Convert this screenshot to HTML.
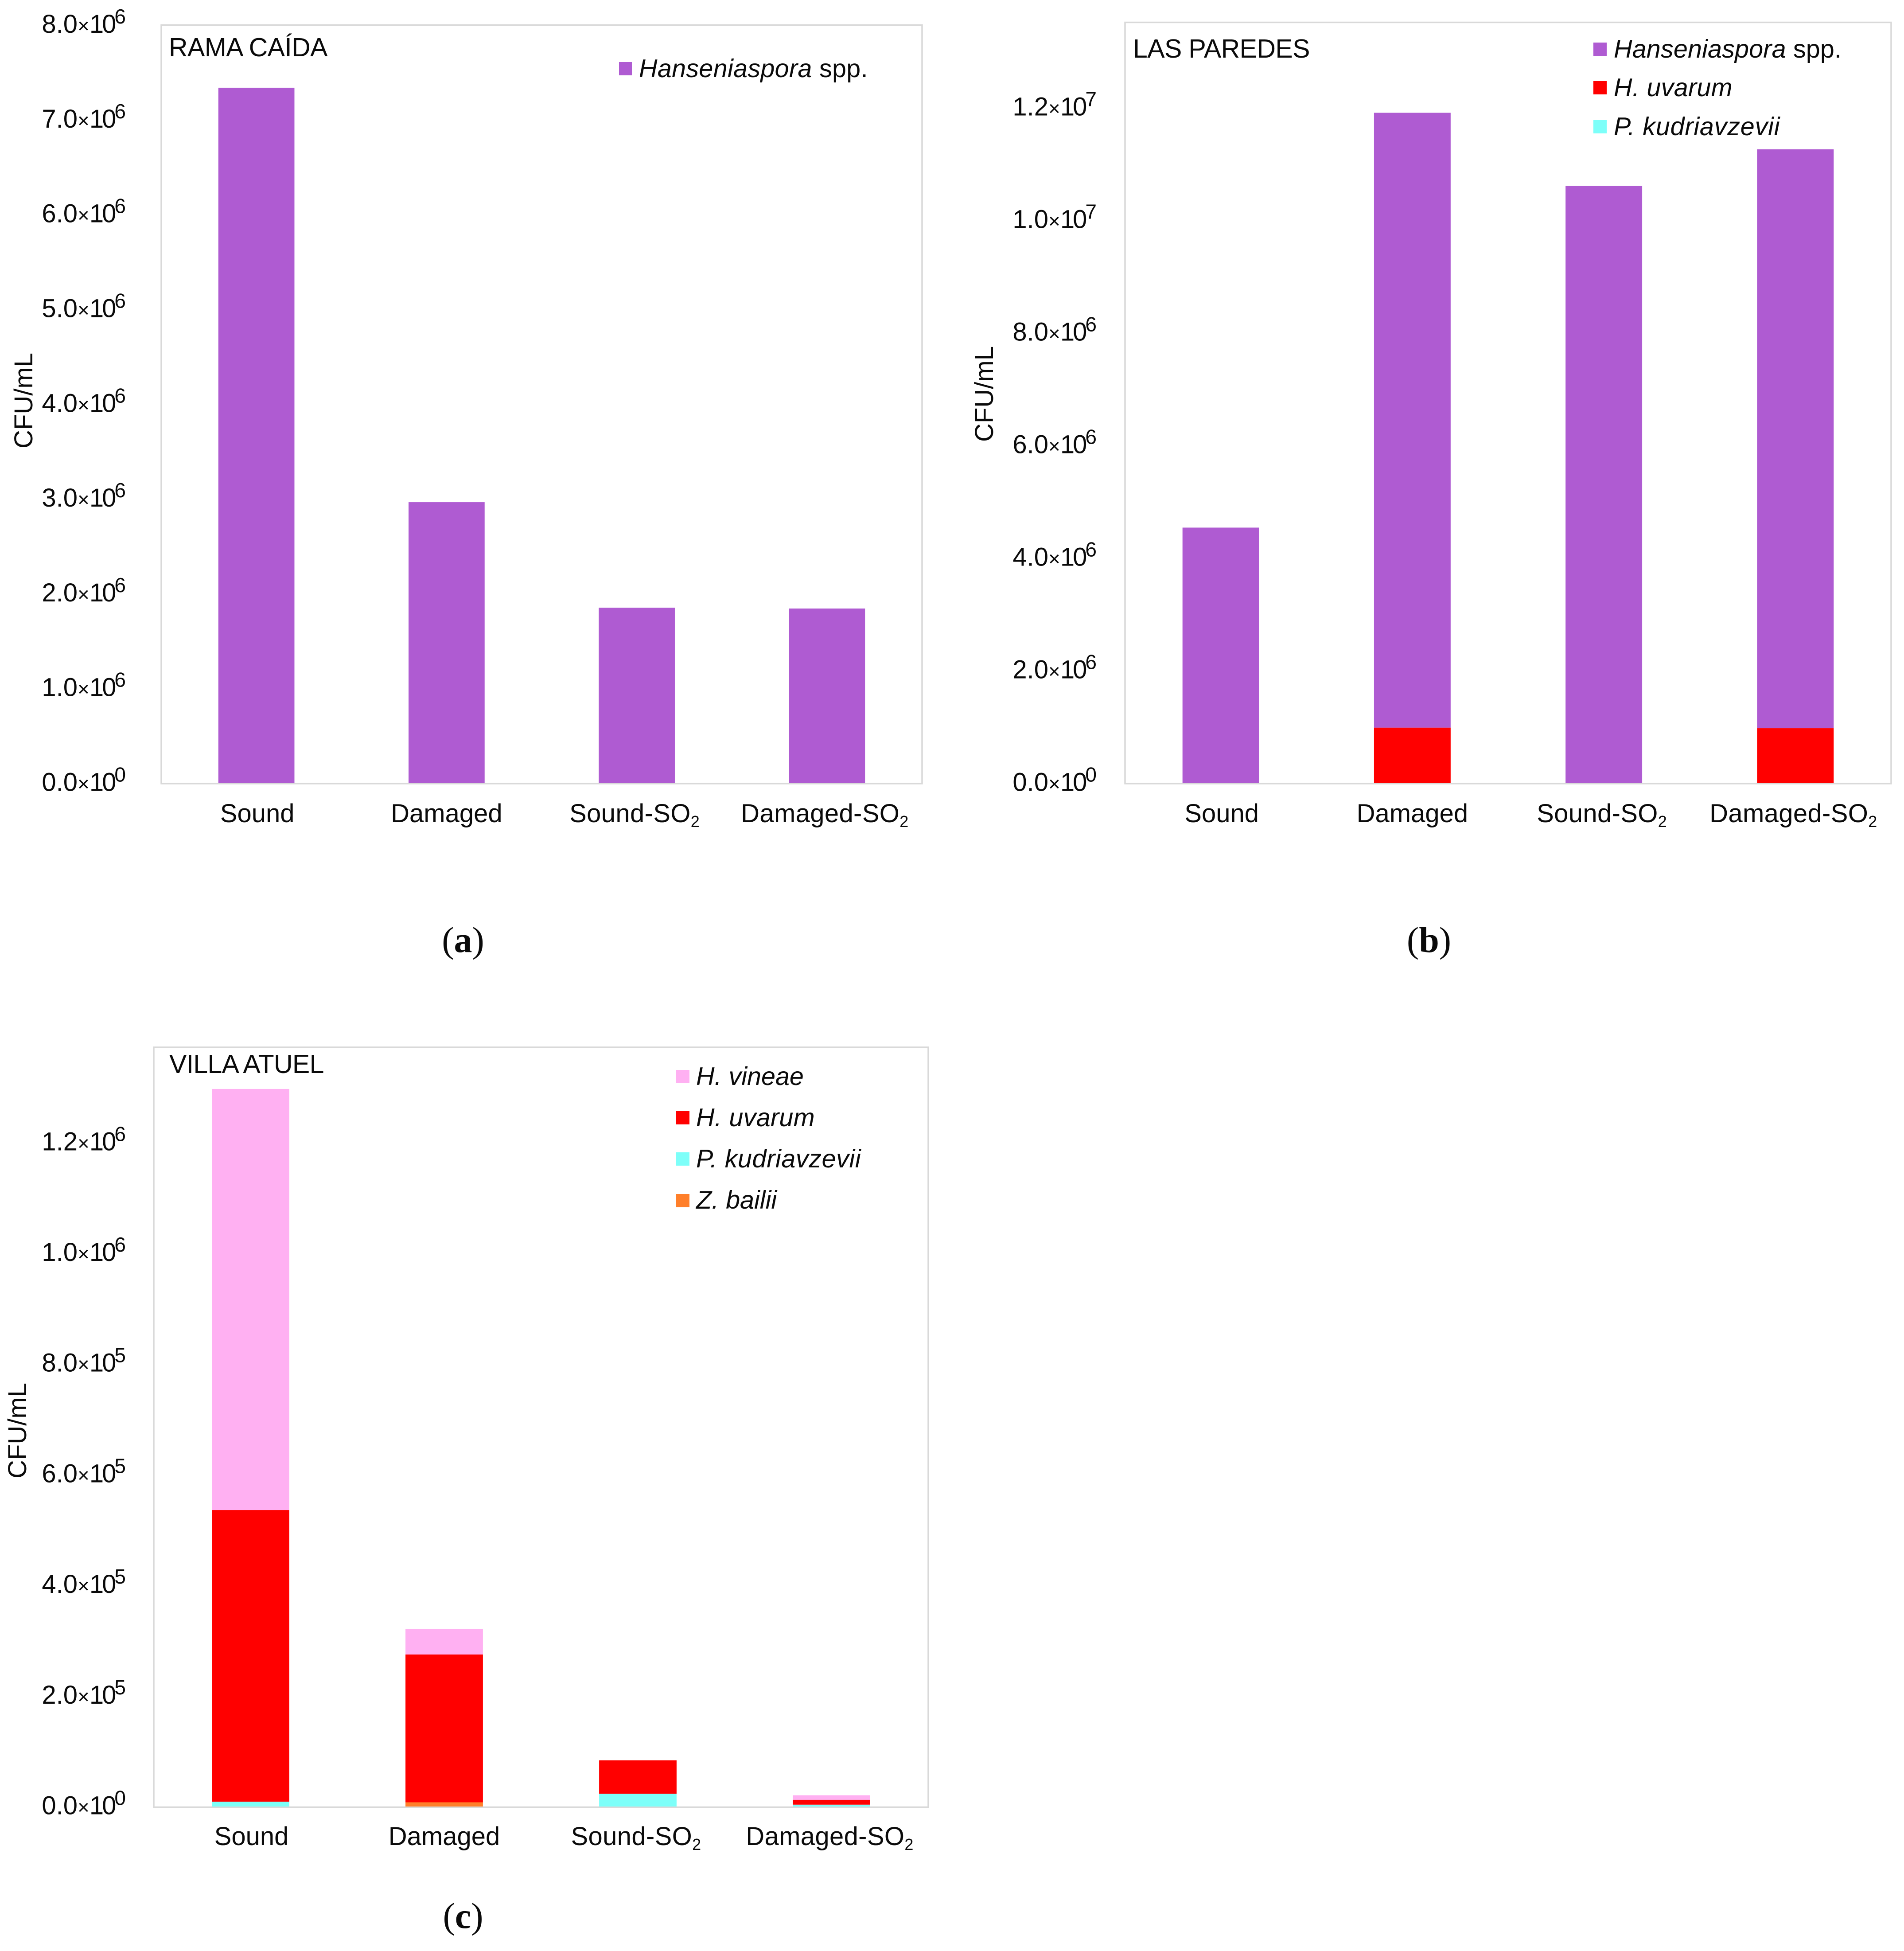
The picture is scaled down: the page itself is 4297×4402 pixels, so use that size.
<!DOCTYPE html>
<html lang="en">
<head>
<meta charset="utf-8">
<title>CFU/mL by vineyard and treatment</title>
<style>
  html, body { margin: 0; padding: 0; background: #fff; }
  svg { display: block; }
  text { font-family: "Liberation Sans", sans-serif; fill: #0a0a0a; }
  .it { font-style: italic; }
  .frame { fill: #fff; stroke: #d9d9d9; stroke-width: 3.5; }
  .title { font-size: 59px; }
  .leg { font-size: 57.5px; }
  .axt { font-size: 58px; }
  .cap { font-family: "Liberation Serif", serif; font-size: 82px; }
  .cap tspan { font-family: "Liberation Serif", serif; }
</style>
</head>
<body>
<svg id="fig" xmlns="http://www.w3.org/2000/svg" width="4297" height="4402" viewBox="0 0 4297 4402">
  <rect width="4297" height="4402" fill="#fff"/>

  <!-- Panel a -->
  <g id="panel-a">
    <rect class="frame" x="364" y="56.5" width="1717" height="1711.5"/>
    <g id="marks-a"></g>
    <text class="title" x="381" y="127" letter-spacing="-0.6">RAMA CAÍDA</text>
    <text class="axt" transform="translate(73 904) rotate(-90)" text-anchor="middle">CFU/mL</text>
    <g>
      <rect x="1397" y="140" width="29" height="30" fill="#af5bd2"/>
      <text class="leg" x="1442" y="174" letter-spacing="0.3"><tspan class="it">Hanseniaspora</tspan> spp.</text>
    </g>
    <text class="cap" x="1045" y="2148" text-anchor="middle">(<tspan font-weight="bold">a</tspan>)</text>
  </g>

  <!-- Panel b -->
  <g id="panel-b">
    <rect class="frame" x="2539" y="50.5" width="1729" height="1717.5"/>
    <g id="marks-b"></g>
    <text class="title" x="2557" y="130" letter-spacing="-0.6">LAS PAREDES</text>
    <text class="axt" transform="translate(2241 889) rotate(-90)" text-anchor="middle">CFU/mL</text>
    <g>
      <rect x="3596" y="96" width="30" height="30" fill="#af5bd2"/>
      <text class="leg" x="3642" y="130" letter-spacing="0.15"><tspan class="it">Hanseniaspora</tspan> spp.</text>
      <rect x="3596" y="183" width="30" height="30" fill="#ff0000"/>
      <text class="leg it" x="3642" y="217" letter-spacing="0.3">H. uvarum</text>
      <rect x="3596" y="271" width="30" height="30" fill="#7dfff9"/>
      <text class="leg it" x="3642" y="305" letter-spacing="0.8">P. kudriavzevii</text>
    </g>
    <text class="cap" x="3225" y="2148" text-anchor="middle">(<tspan font-weight="bold">b</tspan>)</text>
  </g>

  <!-- Panel c -->
  <g id="panel-c">
    <rect class="frame" x="347" y="2363" width="1748" height="1714.5"/>
    <g id="marks-c"></g>
    <text class="title" x="382" y="2421" letter-spacing="-0.7">VILLA ATUEL</text>
    <text class="axt" transform="translate(59 3228) rotate(-90)" text-anchor="middle">CFU/mL</text>
    <g>
      <rect x="1526" y="2414" width="30" height="30" fill="#ffb0f2"/>
      <text class="leg it" x="1571" y="2448">H. vineae</text>
      <rect x="1526" y="2507" width="30" height="30" fill="#ff0000"/>
      <text class="leg it" x="1571" y="2541" letter-spacing="0.3">H. uvarum</text>
      <rect x="1526" y="2600" width="30" height="30" fill="#7dfff9"/>
      <text class="leg it" x="1571" y="2634" letter-spacing="0.6">P. kudriavzevii</text>
      <rect x="1526" y="2694" width="30" height="30" fill="#ff7f2a"/>
      <text class="leg it" x="1571" y="2727">Z. bailii</text>
    </g>
    <text class="cap" x="1045" y="4350" text-anchor="middle">(<tspan font-weight="bold">c</tspan>)</text>
  </g>
</svg>

<script>
// ---------- chart data ----------
const categories = ['Sound', 'Damaged', 'Sound-SO2', 'Damaged-SO2'];

const ramaHanseniaspora = [7339000, 2965000, 1852000, 1843000];
const ramaTickValues = [0, 1000000, 2000000, 3000000, 4000000, 5000000, 6000000, 7000000, 8000000];
const ramaTickMantissas = ['0.0', '1.0', '2.0', '3.0', '4.0', '5.0', '6.0', '7.0', '8.0'];
const ramaTickExponents = ['0', '6', '6', '6', '6', '6', '6', '6', '6'];

const paredesKudriavzevii = [0, 0, 0, 0];
const paredesUvarum = [0, 987000, 0, 976000];
const paredesHanseniaspora = [4540000, 10923000, 10610000, 10284000];
const paredesTickValues = [0, 2000000, 4000000, 6000000, 8000000, 10000000, 12000000];
const paredesTickMantissas = ['0.0', '2.0', '4.0', '6.0', '8.0', '1.0', '1.2'];
const paredesTickExponents = ['0', '6', '6', '6', '6', '7', '7'];

const villaBailii = [0, 7600, 0, 0];
const villaKudriavzevii = [8800, 0, 23200, 3400];
const villaUvarum = [527000, 267100, 60300, 8800];
const villaVineae = [761000, 46500, 0, 8100];
const villaTickValues = [0, 200000, 400000, 600000, 800000, 1000000, 1200000];
const villaTickMantissas = ['0.0', '2.0', '4.0', '6.0', '8.0', '1.0', '1.2'];
const villaTickExponents = ['0', '5', '5', '5', '5', '6', '6'];

const PURPLE = '#af5bd2', RED = '#ff0000', CYAN = '#7dfff9', PINK = '#ffb0f2', ORANGE = '#ff7f2a';

// ---------- drawing ----------
const SVGNS = 'http://www.w3.org/2000/svg';

function svgEl(tag, parent, attrs) {
  const el = document.createElementNS(SVGNS, tag);
  for (const k in attrs) el.setAttribute(k, attrs[k]);
  parent.appendChild(el);
  return el;
}

function addSpan(parent, str, attrs) {
  const s = svgEl('tspan', parent, attrs);
  s.textContent = str;
  return s;
}

function drawPanel(groupId, geom, tickValues, tickMantissas, tickExponents, stacks) {
  const g = document.getElementById(groupId);
  const yOf = v => geom.zeroY - v * geom.pxPerUnit;
  const step = geom.width / categories.length;
  const xOf = i => geom.left + step * (i + 0.5);
  const barW = step * 0.4;

  // stacked bars, drawn bottom-up
  categories.forEach((cat, i) => {
    let base = 0;
    stacks.forEach(series => {
      const v = series.values[i];
      if (v <= 0) return;
      const top = base + v;
      const bar = svgEl('rect', g, {
        x: xOf(i) - barW / 2,
        y: yOf(top),
        width: barW,
        height: yOf(base) - yOf(top),
        fill: series.color
      });
      
      
      base = top;
    });
  });

  // y tick labels
  tickValues.forEach((v, i) => {
    const t = svgEl('text', g, {
      x: geom.tickRight,
      y: yOf(v) + 17.5,
      'text-anchor': 'end',
      'font-size': 58
    });
    
    
    addSpan(t, tickMantissas[i], {});
    addSpan(t, '×', { 'font-size': 46 });
    addSpan(t, '10', { 'letter-spacing': -4 });
    addSpan(t, tickExponents[i], { 'font-size': 46, dy: -21 });
  });

  // x category labels
  categories.forEach((cat, i) => {
    const m = cat.match(/^(.*SO)2$/);
    const t = svgEl('text', g, {
      x: xOf(i) + (m ? geom.subShift : (i === 0 ? 2 : 0)),
      y: geom.labelY,
      'text-anchor': 'middle',
      'font-size': 58,
      'letter-spacing': m ? 0.35 : 0
    });
    
    
    if (m) {
      addSpan(t, m[1], {});
      addSpan(t, '2', { 'font-size': 36, dy: 11 });
    } else {
      t.textContent = cat;
    }
  });
}

drawPanel('marks-a',
  { left: 364, width: 1717, zeroY: 1767, pxPerUnit: 213.8 / 1e6, tickRight: 284, labelY: 1855, subShift: -5 },
  ramaTickValues, ramaTickMantissas, ramaTickExponents,
  [{ values: ramaHanseniaspora, color: PURPLE }]);

drawPanel('marks-b',
  { left: 2539, width: 1729, zeroY: 1767, pxPerUnit: 127 / 1e6, tickRight: 2475, labelY: 1855, subShift: -4.5 },
  paredesTickValues, paredesTickMantissas, paredesTickExponents,
  [{ values: paredesKudriavzevii, color: CYAN },
   { values: paredesUvarum, color: RED },
   { values: paredesHanseniaspora, color: PURPLE }]);

drawPanel('marks-c',
  { left: 347, width: 1748, zeroY: 4076, pxPerUnit: 1248.5 / 1e6, tickRight: 284, labelY: 4163, subShift: -4 },
  villaTickValues, villaTickMantissas, villaTickExponents,
  [{ values: villaBailii, color: ORANGE },
   { values: villaKudriavzevii, color: CYAN },
   { values: villaUvarum, color: RED },
   { values: villaVineae, color: PINK }]);
</script>
</body>
</html>
